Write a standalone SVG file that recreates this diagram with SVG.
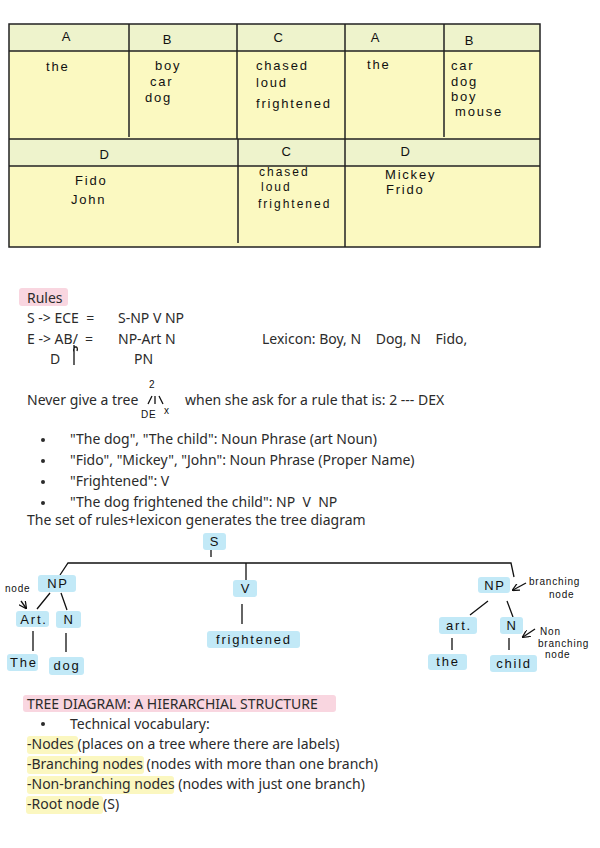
<svg xmlns="http://www.w3.org/2000/svg" width="600" height="848" viewBox="0 0 600 848" xml:space="preserve">
<style>
.t{font-family:"Noto Sans","Open Sans",sans-serif;font-size:14px;fill:#2b2b2b;white-space:pre}
.h{font-family:"Liberation Sans","DejaVu Sans",sans-serif;font-size:13px;letter-spacing:1.8px;fill:#111}
.h2{font-size:12px;letter-spacing:2px}
.hs{font-family:"Liberation Sans","DejaVu Sans",sans-serif;font-size:10px;letter-spacing:0.8px;fill:#111}
.ln{stroke:#111;stroke-width:1.3;fill:none}
.tb{stroke:#222;stroke-width:1.5;fill:none}
.nb{fill:#c2e9f7;rx:3}
.pk{fill:#f9d6e0;rx:3}
.yl{fill:#fbf7c0;rx:3}
</style>
<defs>
<marker id="ah" viewBox="0 0 8 8" refX="7" refY="4" markerWidth="6" markerHeight="6" orient="auto"><path d="M0,0 L8,4 L0,8" fill="none" stroke="#111" stroke-width="1.3"/></marker>
</defs>
<rect width="600" height="848" fill="#ffffff"/>

<g id="table">
<rect x="9" y="24" width="531" height="223" fill="#fbf9c1"/>
<rect x="9" y="24" width="531" height="27" fill="#eef3cc"/>
<rect x="9" y="139" width="531" height="27" fill="#eef3cc"/>
<rect x="9" y="24" width="531" height="223" class="tb"/>
<line x1="9" y1="51" x2="540" y2="51" class="tb"/>
<line x1="9" y1="139" x2="540" y2="139" class="tb"/>
<line x1="9" y1="166" x2="540" y2="166" class="tb"/>
<line x1="129" y1="24" x2="129" y2="137" class="tb"/>
<line x1="237" y1="24" x2="237" y2="139" class="tb"/>
<line x1="345" y1="24" x2="345" y2="139" class="tb"/>
<line x1="444" y1="24" x2="444" y2="137" class="tb"/>
<line x1="238" y1="139" x2="238" y2="243" class="tb"/>
<line x1="345" y1="139" x2="345" y2="247" class="tb"/>
<g class="h">
<text x="67" y="41" text-anchor="middle">A</text>
<text x="168" y="44" text-anchor="middle">B</text>
<text x="279" y="42" text-anchor="middle">C</text>
<text x="376" y="42" text-anchor="middle">A</text>
<text x="470" y="45" text-anchor="middle">B</text>
<text x="46" y="71">the</text>
<text x="155" y="70">boy</text>
<text x="150" y="86">car</text>
<text x="145" y="102">dog</text>
<text x="256" y="70">chased</text>
<text x="256" y="87">loud</text>
<text x="256" y="108">frightened</text>
<text x="367" y="69">the</text>
<text x="451" y="70">car</text>
<text x="451" y="86">dog</text>
<text x="451" y="101">boy</text>
<text x="455" y="116">mouse</text>
<text x="105" y="159" text-anchor="middle">D</text>
<text x="287" y="156" text-anchor="middle">C</text>
<text x="406" y="156" text-anchor="middle">D</text>
<text x="75" y="185">Fido</text>
<text x="71" y="204">John</text>
<text class="h2" x="259" y="176">chased</text>
<text class="h2" x="261" y="191">loud</text>
<text class="h2" x="258" y="208">frightened</text>
<text x="385" y="179">Mickey</text>
<text x="386" y="194">Frido</text>
</g>
</g>

<g id="rules">
<rect x="19" y="288" width="49" height="18" class="pk"/>
<text class="t" x="27" y="303">Rules</text>
<text class="t" x="27" y="323">S -&gt; ECE  =</text>
<text class="t" x="118" y="323">S-NP V NP</text>
<text class="t" x="27" y="344">E -&gt; AB/  =</text>
<text class="t" x="118" y="344">NP-Art N</text>
<text class="t" x="262" y="344">Lexicon: Boy, N    Dog, N    Fido,</text>
<text class="t" x="50" y="364">D</text>
<text class="t" x="134" y="364">PN</text>
<path d="M74,345 L74,365 M74,352 C72,346 79,345 77,351" class="ln"/>
<text class="t" x="27" y="405">Never give a tree</text>
<text class="hs" x="149" y="388">2</text>
<path d="M148,404 L152,396 M155,396 L155,404 M159,396 L163,404" class="ln" stroke-width="1"/>
<text class="hs" x="141" y="418">DE</text>
<text class="hs" x="164" y="414">x</text>
<text class="t" x="185" y="405">when she ask for a rule that is: 2 --- DEX</text>
<g fill="#2b2b2b">
<circle cx="43" cy="440" r="2"/><circle cx="43" cy="461" r="2"/><circle cx="43" cy="482" r="2"/><circle cx="43" cy="503" r="2"/>
</g>
<text class="t" x="70" y="444">"The dog", "The child": Noun Phrase (art Noun)</text>
<text class="t" x="70" y="465">"Fido", "Mickey", "John": Noun Phrase (Proper Name)</text>
<text class="t" x="70" y="486">"Frightened": V</text>
<text class="t" x="70" y="507">"The dog frightened the child": NP  V  NP</text>
<text class="t" x="27" y="525">The set of rules+lexicon generates the tree diagram</text>
</g>

<g id="connectors">
<path d="M211,550 L211,557" class="ln"/>
<path d="M60,575 L68,563 L511,563 L514,577" class="ln"/>
<path d="M246,563 L246,580" class="ln"/>
<path d="M242,604 L242,624" class="ln"/>
<path d="M50,593 L37,609 M61,593 L67,610" class="ln"/>
<path d="M33,631 L33,651 M66,633 L66,652" class="ln"/>
<path d="M488,601 L470,615 M507,601 L513,617" class="ln"/>
<path d="M452,638 L452,650 M509,638 L509,650" class="ln"/>
<path d="M21,601 L26,608" class="ln" marker-end="url(#ah)"/>
<path d="M526,583 L513,590" class="ln" marker-end="url(#ah)"/>
<path d="M535,629 L523,637" class="ln" marker-end="url(#ah)"/>
</g>

<g id="node-S"><rect x="203" y="533" width="23" height="17" class="nb"/><text class="h" x="215" y="546" text-anchor="middle">S</text></g>
<g id="node-NP1"><rect x="38" y="575" width="38" height="17" class="nb"/><text class="h" x="58" y="588" text-anchor="middle">NP</text></g>
<g id="node-Art1"><rect x="16" y="611" width="33" height="16" class="nb"/><text class="h" x="34" y="624" text-anchor="middle">Art.</text></g>
<g id="node-N1"><rect x="56" y="611" width="25" height="17" class="nb"/><text class="h" x="69" y="624" text-anchor="middle">N</text></g>
<g id="node-The"><rect x="7" y="654" width="31" height="17" class="nb"/><text class="h" x="24" y="667" text-anchor="middle">The</text></g>
<g id="node-dog"><rect x="49" y="657" width="35" height="18" class="nb"/><text class="h" x="67" y="670" text-anchor="middle">dog</text></g>
<g id="node-V"><rect x="233" y="580" width="24" height="17" class="nb"/><text class="h" x="246" y="593" text-anchor="middle">V</text></g>
<g id="node-frightened"><rect x="207" y="631" width="93" height="17" class="nb"/><text class="h" x="254" y="644" text-anchor="middle">frightened</text></g>
<g id="node-NP2"><rect x="478" y="577" width="32" height="16" class="nb"/><text class="h" x="495" y="590" text-anchor="middle">NP</text></g>
<g id="node-art2"><rect x="439" y="617" width="38" height="17" class="nb"/><text class="h" x="459" y="630" text-anchor="middle">art.</text></g>
<g id="node-N2"><rect x="500" y="617" width="23" height="17" class="nb"/><text class="h" x="512" y="630" text-anchor="middle">N</text></g>
<g id="node-the"><rect x="428" y="654" width="39" height="16" class="nb"/><text class="h" x="448" y="666" text-anchor="middle">the</text></g>
<g id="node-child"><rect x="490" y="655" width="47" height="17" class="nb"/><text class="h" x="514" y="668" text-anchor="middle">child</text></g>

<g id="annotations">
<text class="hs" x="5" y="592">node</text>
<text class="hs" x="529" y="585">branching</text>
<text class="hs" x="549" y="598">node</text>
<text class="hs" x="540" y="635">Non</text>
<text class="hs" x="538" y="647">branching</text>
<text class="hs" x="545" y="658">node</text>
</g>

<g id="vocab">
<rect x="23" y="695" width="313" height="17" class="pk"/>
<text class="t" x="27" y="709">TREE DIAGRAM: A HIERARCHIAL STRUCTURE</text>
<circle cx="43" cy="724" r="2" fill="#2b2b2b"/>
<text class="t" x="70" y="729">Technical vocabulary:</text>
<rect x="27" y="736" width="51" height="18" class="yl"/>
<rect x="27" y="756" width="117" height="18" class="yl"/>
<rect x="27" y="776" width="147" height="18" class="yl"/>
<rect x="26" y="796" width="77" height="18" class="yl"/>
<text class="t" x="27" y="749">-Nodes (places on a tree where there are labels)</text>
<text class="t" x="27" y="769">-Branching nodes (nodes with more than one branch)</text>
<text class="t" x="27" y="789">-Non-branching nodes (nodes with just one branch)</text>
<text class="t" x="27" y="809">-Root node (S)</text>
</g>
</svg>
